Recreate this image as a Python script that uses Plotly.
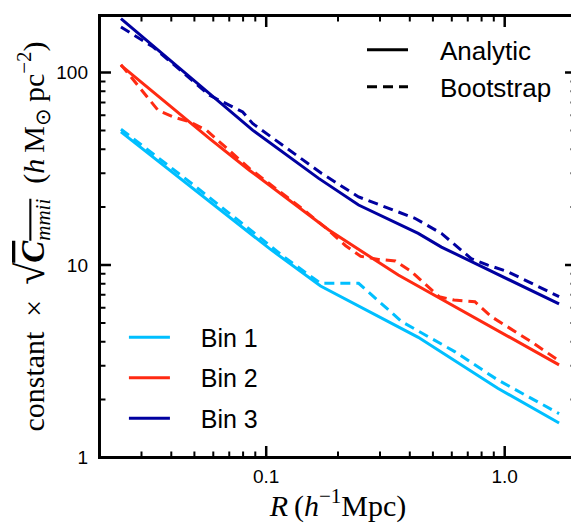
import plotly.graph_objects as go
import numpy as np

# ---- data ----
R_bin1_analytic = [0.0246, 0.0478, 0.103, 0.169, 0.296, 0.434, 0.935, 1.69]
C_bin1_analytic = [49.2, 25.8, 12.2, 7.78, 5.39, 4.21, 2.29, 1.51]
R_bin1_boot = [0.0246, 0.0478, 0.0877, 0.12, 0.169, 0.244, 0.37, 0.617, 0.935, 1.69]
C_bin1_boot = [50.8, 27.0, 14.9, 10.9, 8.04, 8.04, 5.08, 3.55, 2.53, 1.69]

R_bin2_analytic = [0.0246, 0.0579, 0.085, 0.183, 0.358, 1.69]
C_bin2_analytic = [109, 45.4, 31.1, 15.2, 8.87, 3.03]
R_bin2_boot = [0.0246, 0.0282, 0.0352, 0.0407, 0.0478, 0.0561, 0.085, 0.144, 0.18,
               0.2154, 0.249, 0.296, 0.348, 0.402, 0.464, 0.531, 0.613, 0.75, 0.88, 1.29, 1.69]
C_bin2_boot = [110, 89.4, 63.7, 58.9, 55.4, 50.2, 31.8, 19.3, 15.4,
               12.6, 11.1, 10.7, 10.5, 9.34, 7.96, 6.85, 6.58, 6.45, 5.39, 4.0, 3.18]

R_bin3_analytic = [0.0246, 0.0877, 0.166, 0.244, 0.434, 0.543, 1.69]
C_bin3_analytic = [190.6, 50.2, 28.2, 20.5, 14.6, 12.4, 6.28]
R_bin3_boot = [0.0246, 0.0296, 0.0336, 0.0579, 0.0797, 0.0877, 0.171, 0.244, 0.358,
               0.42, 0.543, 0.724, 0.85, 1.03, 1.69]
C_bin3_boot = [172.5, 150, 135.8, 76.2, 62.4, 54.4, 29.9, 22.6, 18.9,
               17.5, 14.6, 10.8, 10.0, 9.23, 6.85]

bin_names = ["Bin 1", "Bin 2", "Bin 3"]
bin_colors = ["#00bfff", "#ff2a12", "#0000a0"]
style_names = ["Analytic", "Bootstrap"]

x_tickvals = [0.1, 1.0]
x_ticktext = ["0.1", "1.0"]
y_tickvals = [1, 10, 100]
y_ticktext = ["1", "10", "100"]
x_minor_ticks = [0.03, 0.04, 0.05, 0.06, 0.07, 0.08, 0.09,
                 0.2, 0.3, 0.4, 0.5, 0.6, 0.7, 0.8, 0.9]
y_minor_ticks = [2, 3, 4, 5, 6, 7, 8, 9, 20, 30, 40, 50, 60, 70, 80, 90]

analytic = [(R_bin1_analytic, C_bin1_analytic), (R_bin2_analytic, C_bin2_analytic),
            (R_bin3_analytic, C_bin3_analytic)]
boot = [(R_bin1_boot, C_bin1_boot), (R_bin2_boot, C_bin2_boot), (R_bin3_boot, C_bin3_boot)]

DASH = "10px,6px"
LW = 3
PAD = "\u00a0\u00a0\u00a0\u2009"

fig = go.Figure()
for i in range(3):
    fig.add_trace(go.Scatter(
        x=boot[i][0], y=boot[i][1], mode="lines",
        line=dict(color=bin_colors[i], width=LW, dash=DASH),
        showlegend=False, name=bin_names[i] + " bootstrap", hoverinfo="skip"))
    fig.add_trace(go.Scatter(
        x=analytic[i][0], y=analytic[i][1], mode="lines",
        line=dict(color=bin_colors[i], width=LW),
        name=PAD + bin_names[i], legend="legend", legendgroup=bin_names[i]))

# style legend (black solid / dashed)
fig.add_trace(go.Scatter(x=[None], y=[None], mode="lines",
                         line=dict(color="black", width=LW),
                         name=PAD + style_names[0], legend="legend2", legendgroup="a"))
fig.add_trace(go.Scatter(x=[None], y=[None], mode="lines",
                         line=dict(color="black", width=LW, dash=DASH),
                         name=PAD + style_names[1], legend="legend2", legendgroup="b"))

# ---- axis ranges (log10) ----
ex = 1.5 / 239.0
ey = 1.5 / 192.8
xr = [float(np.log10(0.02) - ex), float(np.log10(2.0) + ex)]
yr = [float(0 - ey), float(np.log10(198) + ey)]

# ---- frame and ticks, drawn as filled bands on the log axes ----
PW, PH = 481, 446          # plot area in px (for tick sizes only)
MAJ, MIN = 13, 7.5
FRAME = 3
dec_x = (xr[1] - xr[0]) / PW   # decades per px
dec_y = (yr[1] - yr[0]) / PH
X0, X1 = 10 ** xr[0], 10 ** xr[1]
Y0, Y1 = 10 ** yr[0], 10 ** yr[1]


def band(xa, xb, ya, yb, xs, ys):
    xs += [xa, xb, xb, xa, xa, None]
    ys += [ya, ya, yb, yb, ya, None]


fill_common = dict(mode="lines", fill="toself", fillcolor="black",
                   line=dict(color="black", width=0), showlegend=False,
                   hoverinfo="skip")

# frame
fx, fy = [], []
band(X0, X1, Y0, 10 ** (yr[0] + FRAME * dec_y), fx, fy)
band(X0, X1, 10 ** (yr[1] - FRAME * dec_y), Y1, fx, fy)
band(X0, 10 ** (xr[0] + FRAME * dec_x), Y0, Y1, fx, fy)
band(10 ** (xr[1] - FRAME * dec_x), X1, Y0, Y1, fx, fy)
fig.add_trace(go.Scatter(x=fx, y=fy, **fill_common))

# ticks on all four sides
for vals, L, w in ((x_tickvals, MAJ, 2.5), (x_minor_ticks, MIN, 2)):
    tx, ty = [], []
    for v in vals:
        xa, xb = v * 10 ** (-w / 2 * dec_x), v * 10 ** (w / 2 * dec_x)
        band(xa, xb, Y0, 10 ** (yr[0] + L * dec_y), tx, ty)
        band(xa, xb, 10 ** (yr[1] - L * dec_y), Y1, tx, ty)
    fig.add_trace(go.Scatter(x=tx, y=ty, **fill_common))
for vals, L, w in ((y_tickvals, MAJ, 2.5), (y_minor_ticks, MIN, 2)):
    tx, ty = [], []
    for v in vals:
        ya, yb = v * 10 ** (-w / 2 * dec_y), v * 10 ** (w / 2 * dec_y)
        band(X0, 10 ** (xr[0] + L * dec_x), ya, yb, tx, ty)
        band(10 ** (xr[1] - L * dec_x), X1, ya, yb, tx, ty)
    fig.add_trace(go.Scatter(x=tx, y=ty, **fill_common))

tickfont = dict(family="Liberation Sans, Arial, sans-serif", size=19, color="black")
titlefont = dict(family="Liberation Serif, Times New Roman, serif", size=30, color="black")

ytitle = ("constant\u2002×\u2002<span style='font-size:40px'>√</span>"
          "<span style='text-decoration:overline'><span style='font-size:33px'><b><i>C</i></b></span>"
          "<sub><i>mmii</i></sub></span>\u2002(<i>h</i>\u2009M<sub>⊙</sub>\u2009pc<sup>−2</sup>)")

fig.update_layout(
    template="simple_white",
    xaxis=dict(type="log", range=xr, tickmode="array", tickvals=x_tickvals,
               ticktext=x_ticktext, ticks="", tickfont=tickfont, showline=False,
               showgrid=False, zeroline=False, automargin=False, ticklabelstandoff=4,
               title=dict(text="<i>R</i>\u2009(<i>h</i><sup>−1</sup>Mpc)", font=titlefont,
                          standoff=6)),
    yaxis=dict(type="log", range=yr, tickmode="array", tickvals=y_tickvals,
               ticktext=y_ticktext, ticks="", tickfont=tickfont, showline=False,
               showgrid=False, zeroline=False, automargin=False, ticklabelstandoff=9,
               title=dict(text=ytitle, font=titlefont, standoff=12)),
)

legfont = dict(family="Liberation Sans, Arial, sans-serif", size=25, color="black")
fig.update_layout(
    width=571, height=515,
    margin=dict(l=89.5, r=0.5, t=5.5, b=63.5),
    plot_bgcolor="white", paper_bgcolor="white",
    legend=dict(x=0.054, y=0.325, xanchor="left", yanchor="top", bgcolor="rgba(0,0,0,0)",
                font=legfont, itemwidth=41, tracegroupgap=5),
    legend2=dict(x=0.55, y=0.972, xanchor="left", yanchor="top", bgcolor="rgba(0,0,0,0)",
                 font=dict(legfont, size=26), itemwidth=41, tracegroupgap=0),
)

fig.write_html("out.html")
